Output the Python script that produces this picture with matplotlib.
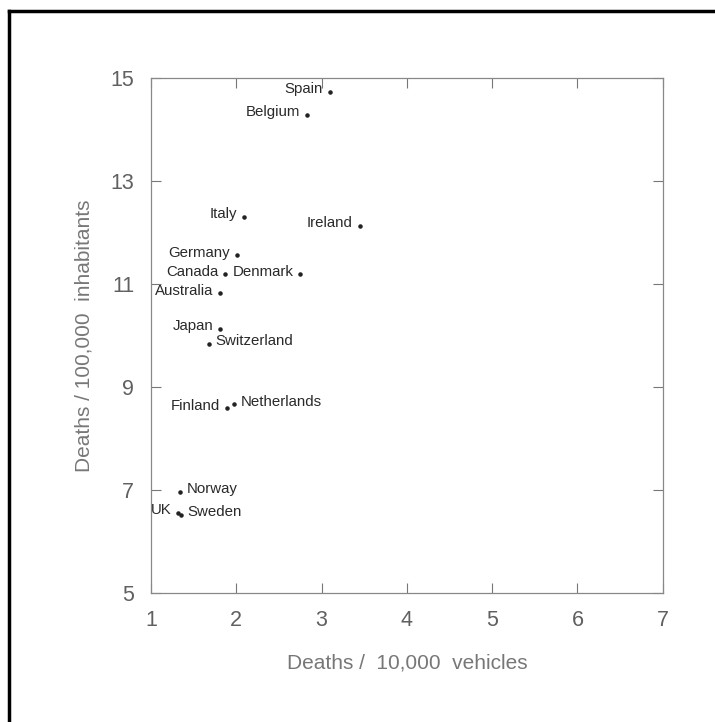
import matplotlib
matplotlib.use("Agg")
import matplotlib.pyplot as plt
from matplotlib.lines import Line2D

# datos
paises = ["Spain", "Belgium", "Italy", "Ireland", "Germany", "Canada", "Denmark",
          "Australia", "Japan", "Switzerland", "Finland", "Netherlands",
          "Norway", "UK", "Sweden"]
muertes_vehiculos = [3.10, 2.83, 2.09, 3.45, 2.01, 1.87, 2.75,
                     1.81, 1.81, 1.68, 1.89, 1.97, 1.34, 1.32, 1.35]
muertes_habitantes = [14.73, 14.28, 12.30, 12.13, 11.56, 11.19, 11.19,
                      10.82, 10.14, 9.84, 8.59, 8.67, 6.97, 6.56, 6.52]
lado = ["l", "l", "l", "l", "l", "l", "l", "l", "l", "r", "l", "r", "r", "l", "r"]

x_ticks = [1, 2, 3, 4, 5, 6, 7]
y_ticks = [5, 7, 9, 11, 13, 15]

plt.rcParams['font.family'] = ['Liberation Sans', 'DejaVu Sans']
GRIS = "#606060"

fig = plt.figure(figsize=(7.15, 7.22), dpi=100)
ax = fig.add_axes([0.211, 0.178, 0.716, 0.714])

ax.scatter(muertes_vehiculos, muertes_habitantes, s=5, color="#222222", zorder=3)

for nombre, xv, yv, l in zip(paises, muertes_vehiculos, muertes_habitantes, lado):
    if l == "l":
        ax.annotate(nombre, (xv, yv), xytext=(-5, 2), textcoords="offset points",
                    ha="right", va="center", fontsize=10.8, color="#2a2a2a")
    else:
        ax.annotate(nombre, (xv, yv), xytext=(5, 2), textcoords="offset points",
                    ha="left", va="center", fontsize=10.8, color="#2a2a2a")

ax.set_xlim(1, 7)
ax.set_ylim(5, 15)
ax.set_xticks(x_ticks)
ax.set_yticks(y_ticks)
ax.tick_params(direction="in", length=7, width=0.8, color="#777777",
               top=True, right=True, labelsize=15.5, labelcolor=GRIS)
ax.tick_params(axis="x", pad=12)
ax.tick_params(axis="y", pad=12)
for s in ax.spines.values():
    s.set_color("#888888")
    s.set_linewidth(0.9)

ax.set_xlabel("Deaths /  10,000  vehicles", fontsize=15, color="#777777", labelpad=16)
ax.set_ylabel("Deaths / 100,000  inhabitants", fontsize=15, color="#777777", labelpad=12)

# marco exterior (solo arriba e izquierda visibles)
fig.add_artist(Line2D([0.013, 1.0], [0.985, 0.985], transform=fig.transFigure,
                      color="black", linewidth=2.5))
fig.add_artist(Line2D([0.013, 0.013], [0.0, 0.985], transform=fig.transFigure,
                      color="black", linewidth=2.5))

fig.savefig("out.png", dpi=100, facecolor="white")
